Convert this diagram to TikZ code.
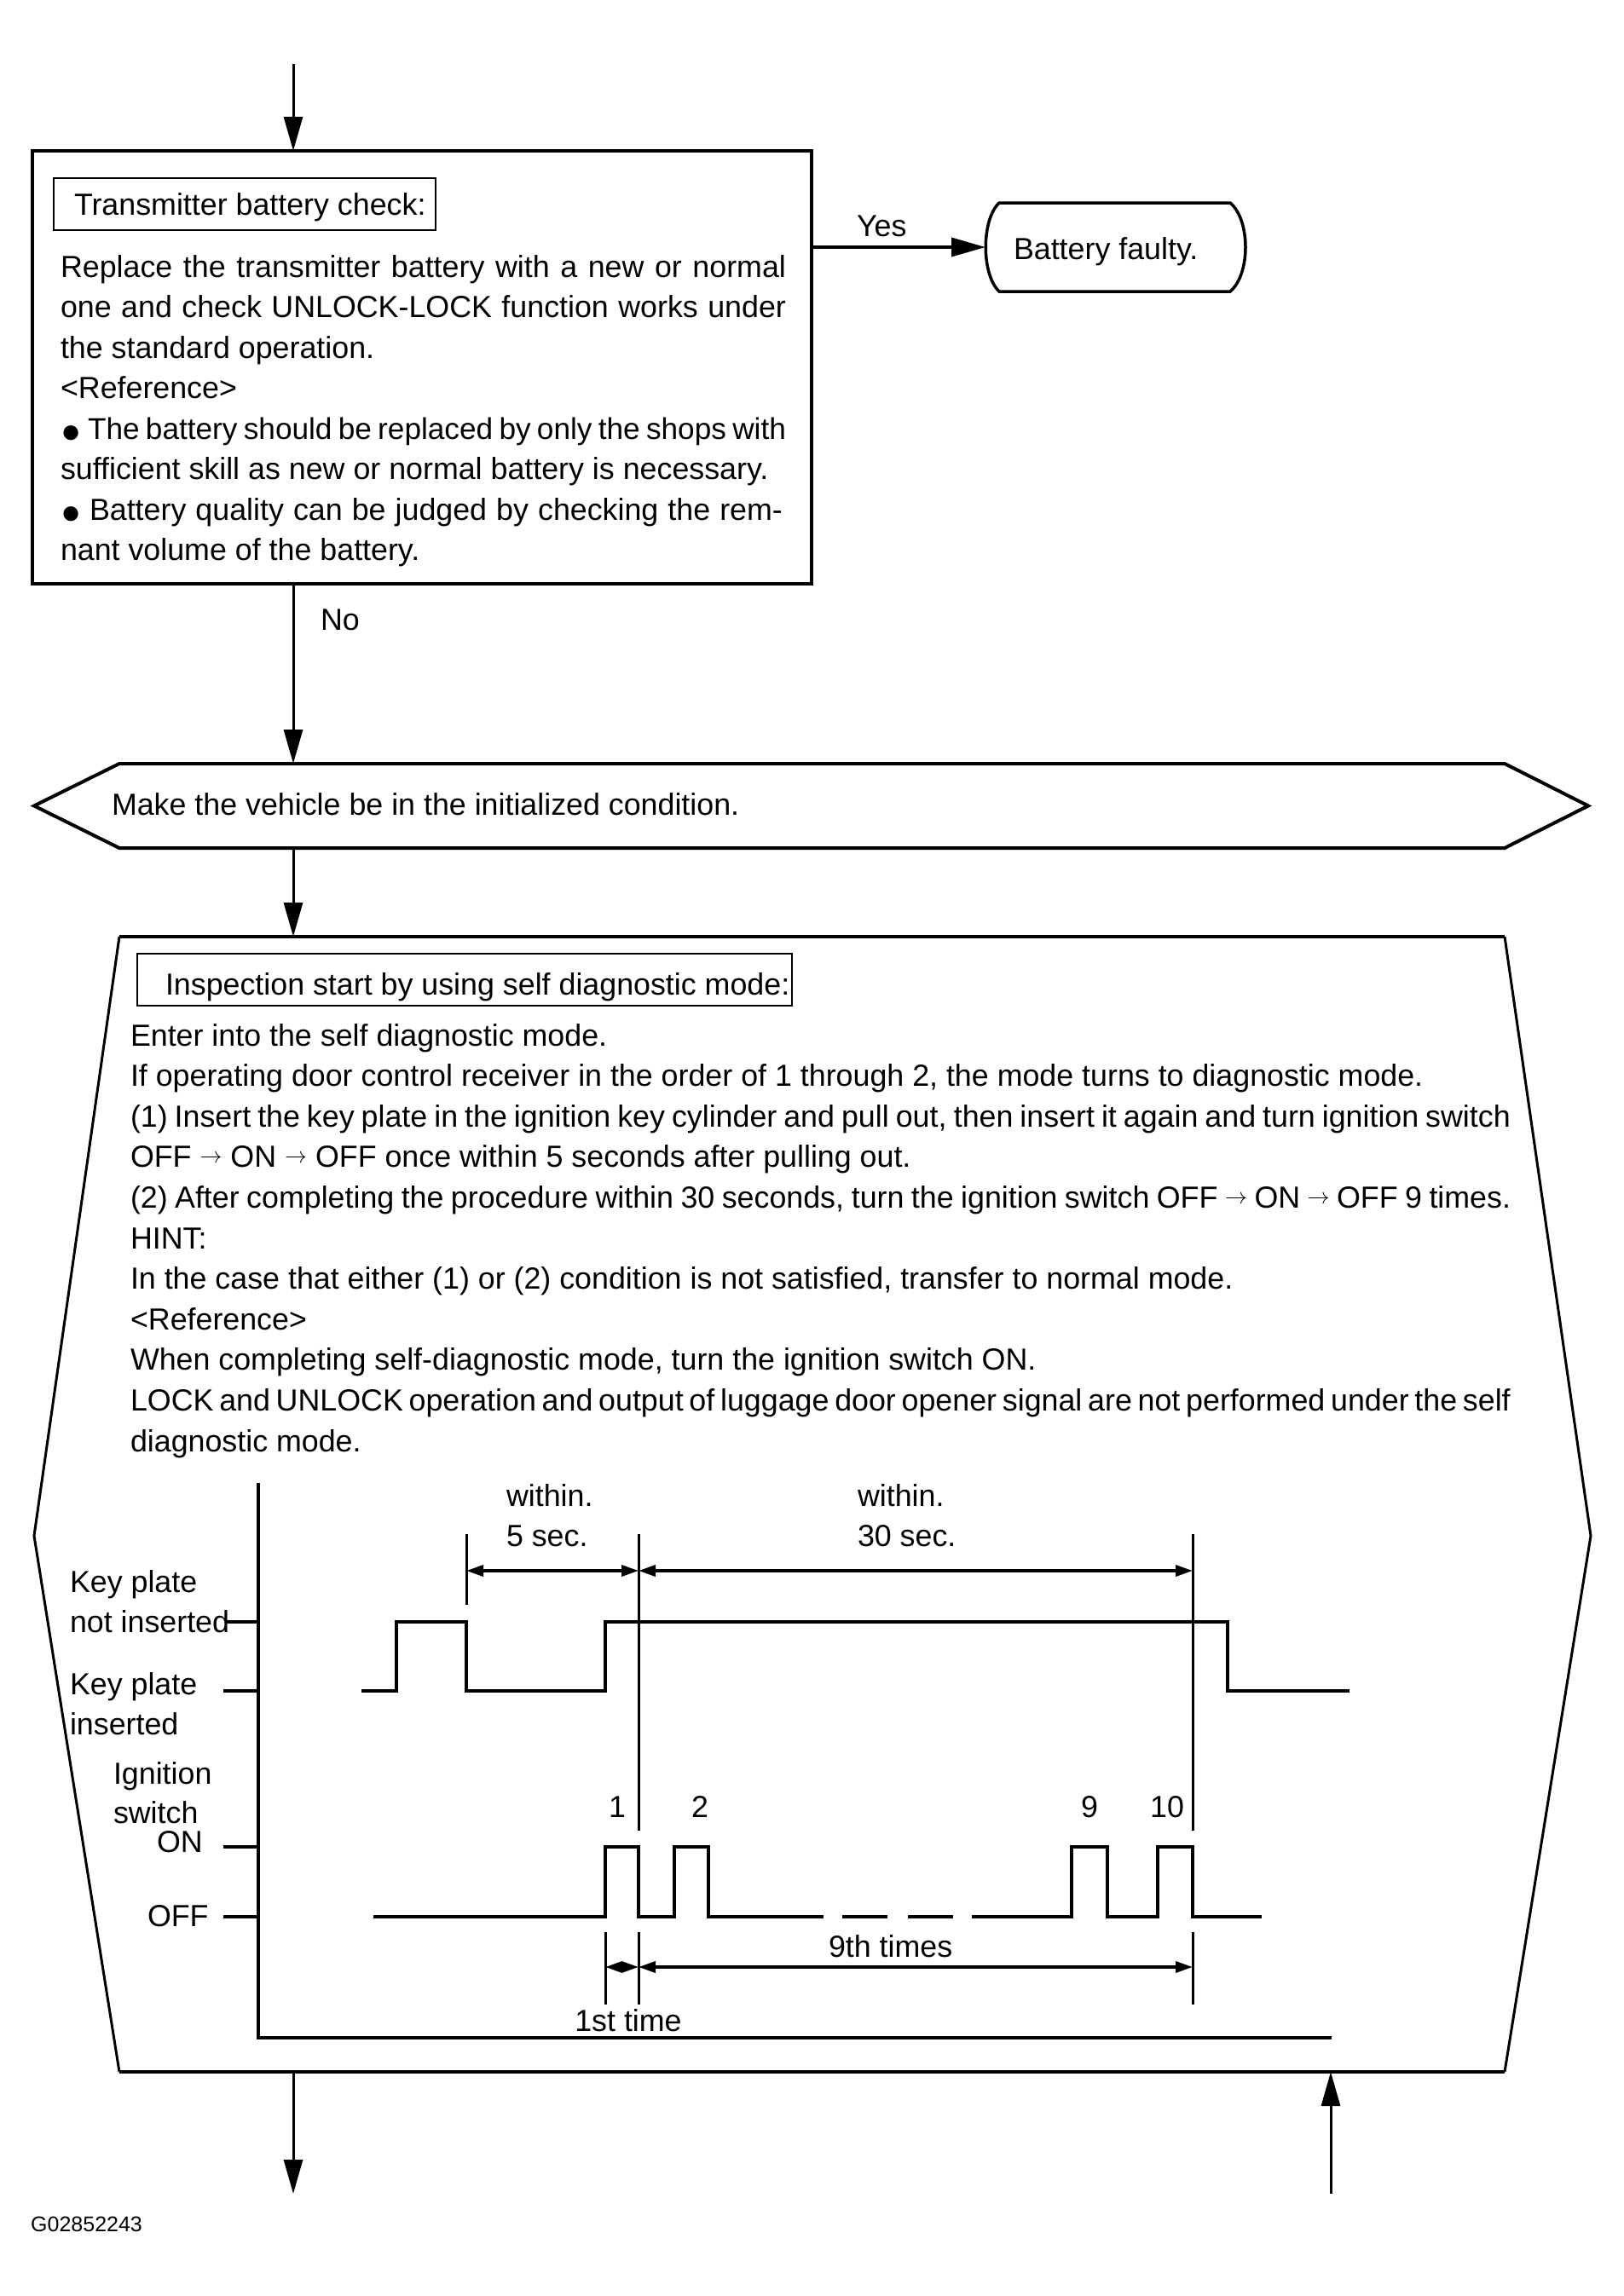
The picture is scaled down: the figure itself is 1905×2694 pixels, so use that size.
\RequirePackage{fix-cm}
\documentclass[tikz,border=0pt]{standalone}
\usepackage{fontspec}
\setmainfont{Liberation Sans}
\usetikzlibrary{arrows.meta}
\newcommand\fsz{\fontsize{35.8}{42}\selectfont}
\newcommand\jl[2]{\makebox[#1pt][s]{#2}}
\newcommand\blt{\makebox[34pt][l]{\raisebox{-4.5pt}{\fontsize{40}{40}\selectfont ●}}}
\newcommand\arr{\raisebox{5pt}{\fontsize{26}{30}\selectfont$\rightarrow$}}
\begin{document}
\begin{tikzpicture}[x=1pt,y=-1pt,
  tx/.style={anchor=base west,inner sep=0pt,outer sep=0pt,font=\fsz},
  shp/.style={inner sep=0pt,outer sep=0pt},
  flow/.style={line width=3pt,-{Triangle[length=40pt,width=22pt]}},
  dimarr/.style={line width=3.5pt,{Triangle[length=20pt,width=13pt]}-{Triangle[length=20pt,width=13pt]}},
  wave/.style={line width=4pt,line join=miter},
  vline/.style={line width=3pt},
  labbox/.style={shp,draw,line width=2pt,anchor=north west,minimum height=61pt}
]
\useasboundingbox (0,0) rectangle (1905,2694);
\fill[white] (0,0) rectangle (1905,2694);

% ---------- top box ----------
\node[shp,draw,line width=4.5pt,minimum width=914pt,minimum height=508pt,anchor=north west] (box1) at (38,177) {};
\node[labbox,minimum width=448pt] (lab1) at (63,209) {};
\node[tx] (lab1t) at (87,252) {Transmitter battery check:};
\node[tx] (b1l1) at (71,325) {\jl{851}{Replace the transmitter battery with a new or normal}};
\node[tx] (b1l2) at (71,372.5) {\jl{851}{one and check UNLOCK-LOCK function works under}};
\node[tx] (b1l3) at (71,420) {the standard operation.};
\node[tx] (b1l4) at (71,467.5) {<Reference>};
\node[tx,font=\fontsize{35.2}{42}\selectfont] (b1l5) at (71,515) {\jl{851}{\makebox[32pt][l]{\raisebox{-4.5pt}{\fontsize{40}{40}\selectfont ●}}The battery should be replaced by only the shops with}};
\node[tx] (b1l6) at (71,562.5) {sufficient skill as new or normal battery is necessary.};
\node[tx] (b1l7) at (71,610) {\jl{847}{\blt Battery quality can be judged by checking the rem-}};
\node[tx] (b1l8) at (71,657.5) {nant volume of the battery.};

% ---------- battery faulty ----------
\node[shp,minimum width=305pt,minimum height=104pt,anchor=west] (fault) at (1156,290) {};
\draw[line width=3.5pt] ([xshift=16pt]fault.north west) -- ([xshift=-18pt]fault.north east)
  .. controls ([xshift=6pt,yshift=-20pt]fault.north east) and ([xshift=6pt,yshift=20pt]fault.south east) .. ([xshift=-18pt]fault.south east)
  -- ([xshift=16pt]fault.south west)
  .. controls ([xshift=-5pt,yshift=20pt]fault.south west) and ([xshift=-5pt,yshift=-20pt]fault.north west) .. cycle;
\node[tx] (faultt) at (1189,304) {Battery faulty.};
\draw[flow,line width=3.5pt] (fault.west -| box1.east) -- (fault.west);
\node[tx] (yes) at (1005,277) {Yes};

% ---------- initialise hexagon ----------
\node[shp,minimum width=1823pt,minimum height=99pt,anchor=north west] (init) at (40,896) {};
\draw[line width=4pt] (init.west) -- ([xshift=100pt]init.north west) -- ([xshift=-98pt]init.north east)
  -- (init.east) -- ([xshift=-98pt]init.south east) -- ([xshift=100pt]init.south west) -- cycle;
\node[tx] (initt) at (131,956) {Make the vehicle be in the initialized condition.};

% ---------- inspection shape ----------
\node[shp,minimum width=1826pt,minimum height=1332pt,anchor=north west] (insp) at (40,1099) {};
\draw[line width=4pt] ([xshift=100pt]insp.north west) -- ([xshift=-101pt]insp.north east);
\draw[line width=4pt] ([xshift=100pt]insp.south west) -- ([xshift=-101pt]insp.south east);
\draw[line width=3pt] ([xshift=-101pt]insp.north east) -- ([yshift=-703pt]insp.north east) -- ([xshift=-101pt]insp.south east);
\draw[line width=3pt] ([xshift=100pt]insp.north west) -- ([yshift=-703pt]insp.north west) -- ([xshift=100pt]insp.south west);

\node[labbox,minimum width=768pt] (lab2) at (161,1119) {};
\node[tx] (lab2t) at (194,1167) {Inspection start by using self diagnostic mode:};
\node[tx] (i1) at (153,1227) {Enter into the self diagnostic mode.};
\node[tx] (i2) at (153,1274.6) {If operating door control receiver in the order of 1 through 2, the mode turns to diagnostic mode.};
\node[tx] (i3) at (153,1322.2) {\jl{1619}{(1) Insert the key plate in the ignition key cylinder and pull out, then insert it again and turn ignition switch}};
\node[tx] (i4) at (153,1369.8) {OFF \arr{} ON \arr{} OFF once within 5 seconds after pulling out.};
\node[tx] (i5) at (153,1417.4) {\jl{1619}{(2) After completing the procedure within 30 seconds, turn the ignition switch OFF \arr{} ON \arr{} OFF 9 times.}};
\node[tx] (i6) at (153,1465) {HINT:};
\node[tx] (i7) at (153,1512.6) {In the case that either (1) or (2) condition is not satisfied, transfer to normal mode.};
\node[tx] (i8) at (153,1560.2) {<Reference>};
\node[tx] (i9) at (153,1607.8) {When completing self-diagnostic mode, turn the ignition switch ON.};
\node[tx] (i10) at (153,1655.4) {\jl{1619}{LOCK and UNLOCK operation and output of luggage door opener signal are not performed under the self}};
\node[tx] (i11) at (153,1703) {diagnostic mode.};

% ---------- flow connectors ----------
\coordinate (start) at (344,75);
\draw[flow] (start) -- (start |- box1.north);
\draw[flow] (box1.south -| start) -- (init.north -| start);
\node[tx] (no) at (376,739) {No};
\draw[flow] (init.south -| start) -- (insp.north -| start);
\coordinate (endL) at (344,2574);
\draw[flow] (insp.south -| start) -- (endL);
\coordinate (inR) at (1561,2574);
\draw[flow] (inR) -- (insp.south -| inR);

% ---------- timing chart ----------
\draw[wave] (303,1740) -- (303,2391) -- (1562,2391);
\draw[wave] (265,1903) -- (303,1903) (262,1984) -- (303,1984) (262,2167) -- (303,2167) (262,2249) -- (303,2249);
\node[tx] (kp1) at (82,1868) {Key plate};
\node[tx] (kp1b) at (82,1915) {not inserted};
\node[tx] (kp2) at (82,1988) {Key plate};
\node[tx] (kp2b) at (82,2035) {inserted};
\node[tx] (ig1) at (133,2093) {Ignition};
\node[tx] (ig2) at (133,2139) {switch};
\node[tx] (on) at (184,2173) {ON};
\node[tx] (off) at (173,2260) {OFF};

\draw[wave] (424,1984) -- (465,1984) -- (465,1903) -- (547,1903) -- (547,1984) -- (710,1984) -- (710,1903) -- (1440,1903) -- (1440,1984) -- (1583,1984);
\draw[wave] (438,2249) -- (710,2249) -- (710,2167) -- (749,2167) -- (749,2249) -- (791,2249) -- (791,2167) -- (831,2167) -- (831,2249) -- (966,2249);
\draw[wave] (988,2249) -- (1041,2249) (1065,2249) -- (1118,2249);
\draw[wave] (1140,2249) -- (1257,2249) -- (1257,2167) -- (1299,2167) -- (1299,2249) -- (1358,2249) -- (1358,2167) -- (1399,2167) -- (1399,2249) -- (1480,2249);

\draw[vline] (547,1800) -- (547,1883);
\draw[vline] (749,1800) -- (749,2148);
\draw[vline] (1399,1800) -- (1399,2148);
\draw[vline] (710,2267) -- (710,2352) (749,2267) -- (749,2352) (1399,2267) -- (1399,2352);

\draw[dimarr] (547,1843) -- (749,1843);
\draw[dimarr] (749,1843) -- (1399,1843);
\draw[dimarr] (710,2308) -- (749,2308);
\draw[dimarr] (749,2308) -- (1399,2308);

\node[tx] (w5a) at (594,1767) {within.};
\node[tx] (w5b) at (594,1814) {5 sec.};
\node[tx] (w30a) at (1006,1767) {within.};
\node[tx] (w30b) at (1006,1814) {30 sec.};
\node[tx,anchor=base] (n1) at (724,2132) {1};
\node[tx,anchor=base] (n2) at (821,2132) {2};
\node[tx,anchor=base] (n9) at (1278,2132) {9};
\node[tx,anchor=base] (n10) at (1369,2132) {10};
\node[tx] (nth) at (972,2296) {9th times};
\node[tx,anchor=base] (first) at (737,2383) {1st time};

\node[anchor=base west,inner sep=0pt,font=\fontsize{25}{30}\selectfont] (gid) at (36,2618) {G02852243};
\end{tikzpicture}
\end{document}
